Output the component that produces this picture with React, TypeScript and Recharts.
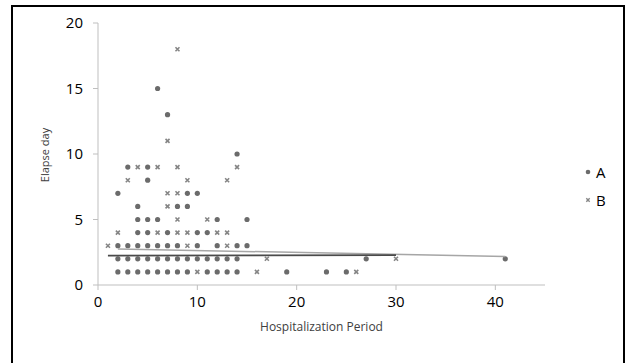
import React from 'react';
import { ScatterChart, Scatter, XAxis, YAxis, Label } from 'recharts';

// [hospitalization period, elapse day]
const seriesA: [number, number][] = [
  [2, 1], [3, 1], [4, 1], [5, 1], [6, 1], [7, 1], [8, 1], [9, 1], [11, 1], [12, 1], [13, 1], [14, 1], [19, 1], [23, 1], [25, 1],
  [2, 2], [3, 2], [4, 2], [5, 2], [6, 2], [7, 2], [8, 2], [9, 2], [10, 2], [11, 2], [12, 2], [13, 2], [14, 2], [27, 2], [41, 2],
  [2, 3], [3, 3], [4, 3], [5, 3], [6, 3], [7, 3], [8, 3], [10, 3], [12, 3], [14, 3], [15, 3],
  [4, 4], [5, 4], [7, 4], [10, 4], [11, 4],
  [4, 5], [5, 5], [6, 5], [12, 5], [15, 5],
  [4, 6], [8, 6], [9, 6],
  [2, 7], [9, 7], [10, 7],
  [5, 8],
  [3, 9], [5, 9],
  [14, 10],
  [7, 13],
  [6, 15],
];

const seriesB: [number, number][] = [
  [10, 1], [16, 1], [26, 1],
  [17, 2], [30, 2],
  [1, 3], [9, 3], [13, 3],
  [2, 4], [6, 4], [8, 4], [9, 4], [12, 4], [13, 4],
  [8, 5], [11, 5],
  [7, 6],
  [7, 7], [8, 7],
  [3, 8], [9, 8], [13, 8],
  [4, 9], [6, 9], [8, 9], [14, 9],
  [7, 11],
  [8, 18],
];

// linear trendlines, end points
const trendA: [number, number][] = [[2, 2.75], [41, 2.18]];
const trendB: [number, number][] = [[1, 2.25], [30, 2.28]];

const xTicks = [0, 10, 20, 30, 40];
const yTicks = [0, 5, 10, 15, 20];
const legendNames = ['A', 'B'];

const toPoints = (list: [number, number][]) => list.map(([x, y]) => ({ x, y }));

const FONT = '"Open Sans", "Noto Sans", sans-serif';
const AXIS = '#bfbfbf';
const DOT = '#6b6b6b';
const CROSS = '#858585';

const DotShape = (props: any) => <circle cx={props.cx} cy={props.cy} r={2.6} fill={DOT} />;

const CrossShape = (props: any) => {
  const { cx, cy } = props;
  const s = 2;
  return (
    <path
      d={`M${cx - s},${cy - s}L${cx + s},${cy + s}M${cx + s},${cy - s}L${cx - s},${cy + s}`}
      stroke={CROSS}
      strokeWidth={1.6}
      fill="none"
    />
  );
};

const NoShape = () => <g />;

const legendMarkers: Record<string, React.ReactNode> = {
  A: <circle cx={5} cy={5} r={2.3} fill={DOT} />,
  B: <path d="M3.3,3.3L6.7,6.7M6.7,3.3L3.3,6.7" stroke={CROSS} strokeWidth={1.4} />,
};

export default function App() {
  return (
    <div style={{ position: 'absolute', left: 0, top: 0, width: 629, height: 363, background: '#fff', overflow: 'hidden' }}>
      <ScatterChart width={629} height={363} margin={{ top: 23, right: 84, bottom: 38, left: 38 }}>
        <XAxis
          type="number"
          dataKey="x"
          domain={[0, 45]}
          ticks={xTicks}
          allowDataOverflow
          height={40}
          tickSize={5}
          tickMargin={6}
          stroke={AXIS}
          tick={{ fill: '#000', fontSize: 15, fontFamily: FONT }}
        >
          <Label value="Hospitalization Period" position="bottom" offset={-3} fill="#404040" fontSize={12} fontFamily={FONT} />
        </XAxis>
        <YAxis
          type="number"
          dataKey="y"
          domain={[0, 20]}
          ticks={yTicks}
          width={60}
          tickSize={5}
          tickMargin={10}
          stroke={AXIS}
          tick={{ fill: '#000', fontSize: 15, fontFamily: FONT }}
        >
          <Label
            content={(p: any) => {
              const vb = p.viewBox || {};
              const cx = 44;
              const cy = (vb.y ?? 23) + (vb.height ?? 262) / 2 + 1;
              return (
                <text
                  x={cx}
                  y={cy}
                  transform={`rotate(-90 ${cx} ${cy})`}
                  textAnchor="middle"
                  dominantBaseline="central"
                  fill="#404040"
                  fontSize={11}
                  fontFamily={FONT}
                >
                  Elapse day
                </text>
              );
            }}
          />
        </YAxis>
        <Scatter name="A" data={toPoints(seriesA)} shape={DotShape} isAnimationActive={false} />
        <Scatter name="B" data={toPoints(seriesB)} shape={CrossShape} isAnimationActive={false} />
        <Scatter
          name="trend A"
          data={toPoints(trendA)}
          shape={NoShape}
          line={{ stroke: '#a6a6a6', strokeWidth: 1.5 }}
          isAnimationActive={false}
        />
        <Scatter
          name="trend B"
          data={toPoints(trendB)}
          shape={NoShape}
          line={{ stroke: '#4a4a4a', strokeWidth: 1.8 }}
          isAnimationActive={false}
        />
      </ScatterChart>
      <div style={{ position: 'absolute', left: 583, top: 158, fontFamily: FONT, fontSize: 15, color: '#000' }}>
        {legendNames.map((name) => (
          <div key={name} style={{ display: 'flex', alignItems: 'center', height: 28 }}>
            <svg width={10} height={10} style={{ marginRight: 3 }}>{legendMarkers[name]}</svg>
            <span>{name}</span>
          </div>
        ))}
      </div>
      <div
        style={{
          position: 'absolute',
          left: 11,
          top: 5,
          width: 614,
          height: 420,
          border: '2px solid #000',
          boxSizing: 'border-box',
          pointerEvents: 'none',
        }}
      />
    </div>
  );
}
